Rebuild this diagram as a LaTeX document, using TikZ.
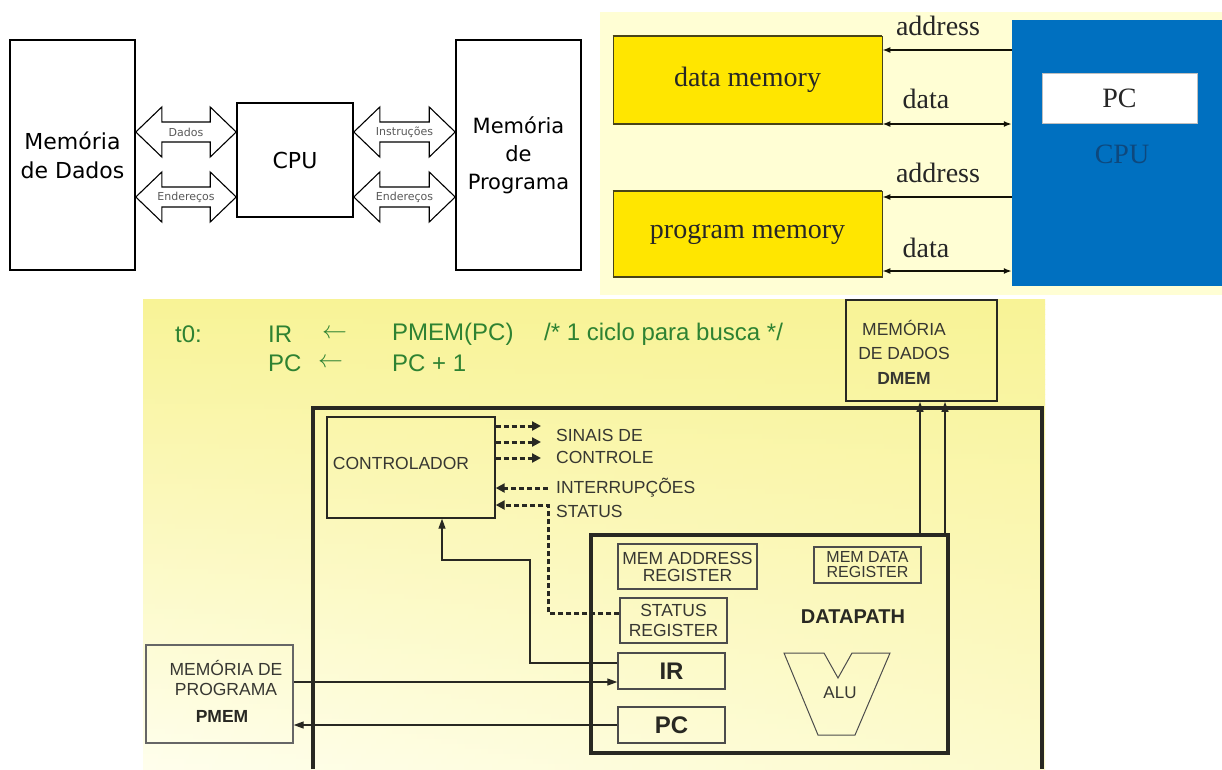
\documentclass[tikz,border=0pt]{standalone}
\usepackage{fontspec}
\setmainfont{Liberation Sans}
\newfontfamily\verdfont{DejaVu Sans}
\newfontfamily\timesfont{Liberation Serif}
\usetikzlibrary{calc,arrows.meta}

\definecolor{bgyel}{RGB}{255,254,212}
\definecolor{memyel}{RGB}{255,230,0}
\definecolor{cpublue}{RGB}{0,112,192}
\definecolor{cpudark}{RGB}{14,72,125}
\definecolor{olivec}{RGB}{72,68,24}
\definecolor{tgreen}{RGB}{46,130,50}
\definecolor{byelA}{RGB}{248,243,150}
\definecolor{byelB}{RGB}{255,255,240}
\definecolor{ink}{RGB}{40,40,34}
\definecolor{txtgray}{RGB}{55,55,50}

\newcommand{\fsz}[2]{\fontsize{#1}{#2}\selectfont}
\newcommand{\blockarr}[4]{%
  \draw[blockarrow] (#1) -- ($(#1)+(26,-25)$) -- ($(#1)+(26,-10)$) -- ($(#2)+(-26,-10)$) -- ($(#2)+(-26,-25)$) -- (#2) -- ($(#2)+(-26,25)$) -- ($(#2)+(-26,10)$) -- ($(#1)+(26,10)$) -- ($(#1)+(26,25)$) -- cycle;
  \node[arrlabel] (#4) at ($(#1)!0.5!(#2)$) {#3};
}

\begin{document}
\begin{tikzpicture}[x=1pt,y=-1pt,
  blackbox/.style={draw=black, line width=1.6pt, fill=white, inner sep=0pt, align=center},
  blockarrow/.style={draw=black, line width=1.1pt, fill=white, line join=miter},
  arrlabel/.style={font=\verdfont\fsz{11}{12}, text=black!65, inner sep=0pt},
  memtxt/.style={font=\timesfont\fsz{28}{30}, text=black!85},
  memblock/.style={fill=memyel, draw=olivec, line width=0.6pt, inner sep=0pt},
  busline/.style={draw=black!75!olivec, line width=2.2pt},
  bustip/.style={-{Latex[length=8pt,width=6pt]}},
  bustwo/.style={{Latex[length=8pt,width=6pt]}-{Latex[length=8pt,width=6pt]}},
  greentxt/.style={font=\fsz{24}{28}, text=tgreen, inner sep=0pt, anchor=west},
  linebox/.style={draw=ink, line width=1.4pt, inner sep=0pt},
  regbox/.style={draw=black!70, line width=1.4pt, inner sep=0pt, align=center, font=\fsz{17.5}{17}, text=txtgray},
  smalltxt/.style={font=\fsz{17.5}{20}, text=txtgray, inner sep=0pt},
  thinarrow/.style={draw=ink, line width=1.3pt, -{Triangle[length=10pt,width=7pt]}},
  dasharrow/.style={draw=ink, line width=3pt, dash pattern=on 5pt off 3pt, -{Triangle[length=9pt,width=9pt]}}
]
\useasboundingbox (0,0) rectangle (1222,769);
\fill[white] (0,0) rectangle (1222,769);

% ---------------- top left ----------------
\node[blackbox, minimum width=125pt, minimum height=230pt, font=\verdfont\fsz{22}{29}] (mdados) at (72.5,155) {Memória\\de Dados};
\node[blackbox, minimum width=116pt, minimum height=114pt, font=\verdfont\fsz{22}{26}] (cpuA) at (295,160) {CPU};
\node[blackbox, minimum width=125pt, minimum height=230pt, font=\verdfont\fsz{21}{28}] (mprog) at (518.5,155) {Memória\\de\\Programa};

\coordinate (d1a) at (mdados.east |- 0,132);
\coordinate (d1b) at (cpuA.west |- 0,132);
\blockarr{d1a}{d1b}{Dados}{lblA}
\coordinate (d2a) at (mdados.east |- 0,197);
\coordinate (d2b) at (cpuA.west |- 0,197);
\blockarr{d2a}{d2b}{Endereços}{lblB}
\coordinate (p1a) at (cpuA.east |- 0,132);
\coordinate (p1b) at (mprog.west |- 0,132);
\blockarr{p1a}{p1b}{Instruções}{lblC}
\coordinate (p2a) at (cpuA.east |- 0,197);
\coordinate (p2b) at (mprog.west |- 0,197);
\blockarr{p2a}{p2b}{Endereços}{lblD}

% ---------------- top right ----------------
\fill[bgyel] (600,12) rectangle (1222,295);
\node[memblock, memtxt, minimum width=269pt, minimum height=88pt] (dmem) at (747.5,80) {data memory};
\draw[olivec, line width=2pt] (dmem.north west) -- (dmem.north east);
\draw[olivec, line width=2pt] (dmem.south west) -- (dmem.south east);
\node[memblock, memtxt, minimum width=269pt, minimum height=86pt] (pmem) at (747.5,234) {program memory};
\draw[olivec, line width=2pt] (pmem.north west) -- (pmem.north east);
\draw[olivec, line width=2pt] (pmem.south west) -- (pmem.south east);
\node[fill=cpublue, minimum width=210pt, minimum height=266pt, inner sep=0pt] (cpuB) at (1117,153) {};
\node[fill=white, draw=black!25, line width=0.6pt, minimum width=155pt, minimum height=50pt, inner sep=0pt, memtxt] (pcB) at (1119.5,98) {PC};
\node[memtxt, text=cpudark, inner sep=0pt] (cpuBT) at (1122,154) {CPU};

\draw[busline, bustip] (cpuB.west |- 0,50) -- (dmem.east |- 0,50);
\draw[busline, bustwo] (dmem.east |- 0,124) -- (cpuB.west |- 0,124);
\draw[busline, bustip] (cpuB.west |- 0,197) -- (pmem.east |- 0,197);
\draw[busline, bustwo] (pmem.east |- 0,271) -- (cpuB.west |- 0,271);
\node[memtxt, inner sep=0pt] (ad1) at (938,26) {address};
\node[memtxt, inner sep=0pt] (da1) at (926,99) {data};
\node[memtxt, inner sep=0pt] (ad2) at (938,173) {address};
\node[memtxt, inner sep=0pt] (da2) at (926,248) {data};

% ---------------- bottom ----------------
\foreach \i in {0,...,93}{
  \pgfmathsetmacro{\tt}{(\i+0.5)/94}
  \pgfmathsetmacro{\fl}{100*((1-\tt)+\tt*0.04)}
  \pgfmathsetmacro{\fr}{100*((1-\tt)+\tt*0.40)}
  \shade[left color=byelA!\fl!byelB, right color=byelA!\fr!byelB] (143,{299+5*\i}) rectangle (1045,{299+5*\i+5.6});
}

\node[greentxt] (t0) at (175,334) {t0:};
\node[greentxt] (ir1) at (268,334) {IR};
\node[greentxt] (ar1) at (322,334) {$\leftarrow$};
\node[greentxt] (pm1) at (392,334) {PMEM(PC)};
\node[greentxt] (cm1) at (544,334) {/* 1 ciclo para busca */};
\node[greentxt] (pc1) at (268,363) {PC};
\node[greentxt] (ar2) at (318,363) {$\leftarrow$};
\node[greentxt] (pc2) at (392,363) {PC + 1};

% DMEM
\node[linebox, line width=1.8pt, minimum width=151pt, minimum height=101pt] (dmemB) at (921.5,350.5) {};
\node[smalltxt, align=center, font=\fsz{17.5}{24.5}] (dmemT) at (904,352) {MEMÓRIA\\DE DADOS\\\textbf{DMEM}};

% outer CPU frame
\draw[draw=ink, line width=3.2pt] (313,769) -- (313,408) -- (1042,408) -- (1042,769);

% controller
\node[linebox, minimum width=168pt, minimum height=101pt] (ctrl) at (411,467.5) {};
\node[smalltxt] (ctrlT) at (401,463) {CONTROLADOR};

% control signals
\coordinate (s1) at (541,426);
\coordinate (s2) at (541,442);
\coordinate (s3) at (541,458);
\coordinate (intr) at (548,488);
\draw[dasharrow] (ctrl.east |- s1) -- (s1);
\draw[dasharrow] (ctrl.east |- s2) -- (s2);
\draw[dasharrow] (ctrl.east |- s3) -- (s3);
\draw[dasharrow] (intr) -- (ctrl.east |- intr);
\node[smalltxt, anchor=west] (lsin) at (556,435) {SINAIS DE};
\node[smalltxt, anchor=west] (lcon) at (556,457) {CONTROLE};
\node[smalltxt, anchor=west] (lint) at (556,488) {INTERRUPÇÕES};
\node[smalltxt, anchor=west] (lsta) at (556,511) {STATUS};

% datapath
\node[draw=ink, line width=4pt, minimum width=357pt, minimum height=218pt, inner sep=0pt] (dp) at (769.5,644) {};
\node[regbox, minimum width=139pt, minimum height=45pt] (mar) at (687.5,566.5) {MEM ADDRESS\\REGISTER};
\node[regbox, minimum width=107pt, minimum height=36pt, font=\fsz{16}{15}] (mdr) at (867.5,565) {MEM DATA\\REGISTER};
\node[regbox, minimum width=107pt, minimum height=45pt, font=\fsz{17.5}{20}] (sr) at (673.5,620.5) {STATUS\\REGISTER};
\node[regbox, minimum width=107pt, minimum height=36pt, font=\bfseries\fsz{24}{26}, text=ink] (ir) at (671.5,671) {IR};
\node[regbox, minimum width=107pt, minimum height=36pt, font=\bfseries\fsz{24}{26}, text=ink] (pc) at (671.5,725) {PC};
\node[smalltxt, font=\bfseries\fsz{20}{22}, text=ink] (dpT) at (853,617) {DATAPATH};
\draw[draw=black!70, line width=1pt, line join=miter] (784,653) -- (824,653) -- (838,678) -- (852,653) -- (890,653) -- (855,735) -- (818,735) -- cycle;
\node[smalltxt, font=\fsz{17}{18}] (aluT) at (840,693) {ALU};

% PMEM
\node[linebox, draw=black!60, minimum width=147pt, minimum height=98pt] (pmemB) at (219.5,694) {};
\node[smalltxt] (pmemT1) at (226,668) {MEMÓRIA DE};
\node[smalltxt] (pmemT2) at (226,689) {PROGRAMA};
\node[smalltxt, font=\bfseries\fsz{17.5}{20}, text=ink] (pmemT3) at (222,716) {PMEM};

% status line
\draw[dasharrow] (sr.west |- 0,613) -| (548,505) -- (ctrl.east |- 0,505);

% data connections
\draw[thinarrow] (pmemB.east |- 0,682) -- (ir.west |- 0,682);
\draw[thinarrow] (pc.west) -- (pmemB.east |- pc.west);
\draw[thinarrow] (ir.west |- 0,663) -| (530,560) -| (ctrl.south -| 442,0);
\draw[thinarrow] (dp.north -| 920,0) -- (dmemB.south -| 920,0);
\draw[thinarrow] (dp.north -| 945,0) -- (dmemB.south -| 945,0);
\end{tikzpicture}
\end{document}
